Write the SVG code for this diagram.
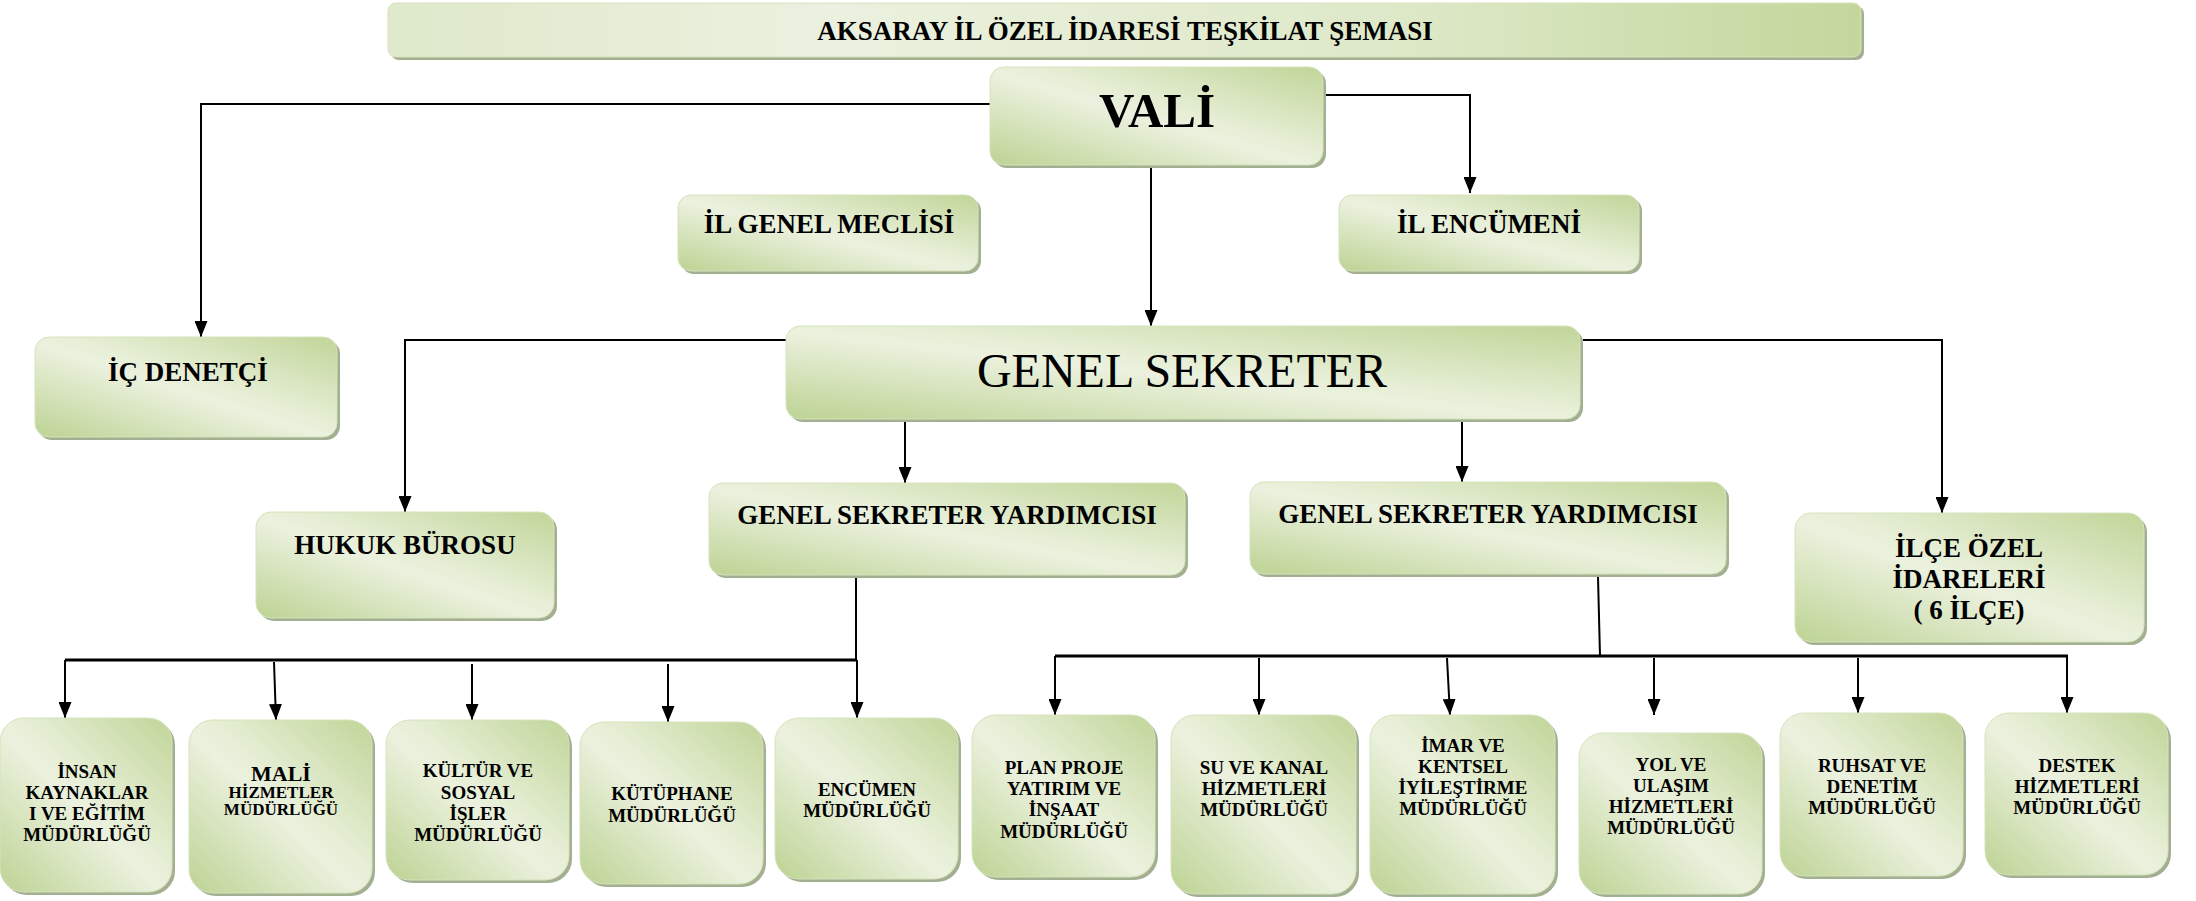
<svg xmlns="http://www.w3.org/2000/svg" width="2196" height="901" viewBox="0 0 2196 901">
<defs>
<linearGradient id="g" x1="0" y1="1" x2="1" y2="0">
<stop offset="0" stop-color="#bdd393"/>
<stop offset="0.47" stop-color="#ebf1de"/>
<stop offset="0.55" stop-color="#e7efd7"/>
<stop offset="1" stop-color="#c1d598"/>
</linearGradient>
<linearGradient id="gt" x1="0" y1="0" x2="1" y2="0">
<stop offset="0" stop-color="#dfe9cb"/>
<stop offset="0.3" stop-color="#ebf1df"/>
<stop offset="0.7" stop-color="#dde8c7"/>
<stop offset="1" stop-color="#c3d79b"/>
</linearGradient>
<marker id="ar" markerUnits="userSpaceOnUse" markerWidth="16" markerHeight="13" refX="16" refY="6.5" orient="auto">
<path d="M0,0 L16,6.5 L0,13 z" fill="#000"/>
</marker>
</defs>
<style>
.sh{fill:#a3af91}
.bx{fill:url(#g);stroke:#d6e3bc;stroke-width:1}
.t{font-family:"Liberation Serif","Times New Roman",serif;font-weight:bold;fill:#000;text-anchor:middle}
.n{font-weight:normal}
.c{fill:none;stroke:#000;stroke-width:2}
.cb{fill:none;stroke:#000;stroke-width:3}
.a{marker-end:url(#ar)}
</style>

<g id="connectors">
<path class="c a" d="M990,104 H201 V337"/>
<path class="c a" d="M1325,95 H1470 V193"/>
<path class="c a" d="M1151,168 V326"/>
<path class="c a" d="M786,340 H405 V512"/>
<path class="c a" d="M905,422 V483"/>
<path class="c a" d="M1462,422 V482"/>
<path class="c a" d="M1583,340 H1942 V513"/>
<path class="c" d="M856,578 V660"/>
<path class="cb" d="M65,660 H857"/>
<path class="c a" d="M65,660 V718"/>
<path class="c a" d="M274,662 L276,720"/>
<path class="c a" d="M472,664 V720"/>
<path class="c a" d="M668,664 V722"/>
<path class="c a" d="M857,660 V718"/>
<path class="c" d="M1598,577 L1600,656"/>
<path class="cb" d="M1055,656 H2068"/>
<path class="c a" d="M1055,656 V715"/>
<path class="c a" d="M1259,658 V715"/>
<path class="c a" d="M1447,658 L1450,715"/>
<path class="c a" d="M1654,658 V715"/>
<path class="c a" d="M1858,658 V713"/>
<path class="c a" d="M2067,656 V713"/>
</g>

<g id="title">
<rect class="sh" x="391" y="6" width="1473" height="54" rx="8"/>
<rect x="388" y="3" width="1473" height="54" rx="8" fill="url(#gt)" stroke="#d6e3bc"/>
<text class="t" x="1125" y="40" font-size="27">AKSARAY İL ÖZEL İDARESİ TEŞKİLAT ŞEMASI</text>
</g>

<g id="vali">
<rect class="sh" x="993" y="70" width="333" height="98" rx="14"/>
<rect class="bx" x="990" y="67" width="333" height="98" rx="14"/>
<text class="t" x="1157" y="127" font-size="49">VALİ</text>
</g>

<g id="il-genel-meclisi">
<rect class="sh" x="681" y="198" width="300" height="76" rx="13"/>
<rect class="bx" x="678" y="195" width="300" height="76" rx="13"/>
<text class="t" x="829" y="233" font-size="27">İL GENEL MECLİSİ</text>
</g>

<g id="il-encumeni">
<rect class="sh" x="1342" y="198" width="300" height="76" rx="13"/>
<rect class="bx" x="1339" y="195" width="300" height="76" rx="13"/>
<text class="t" x="1489" y="233" font-size="27">İL ENCÜMENİ</text>
</g>

<g id="ic-denetci">
<rect class="sh" x="38" y="340" width="302" height="100" rx="14"/>
<rect class="bx" x="35" y="337" width="302" height="100" rx="14"/>
<text class="t" x="188" y="381" font-size="27">İÇ DENETÇİ</text>
</g>

<g id="genel-sekreter">
<rect class="sh" x="789" y="329" width="794" height="93" rx="14"/>
<rect class="bx" x="786" y="326" width="794" height="93" rx="14"/>
<text class="t n" x="1182" y="387" font-size="48">GENEL SEKRETER</text>
</g>

<g id="hukuk-burosu">
<rect class="sh" x="259" y="515" width="298" height="106" rx="15"/>
<rect class="bx" x="256" y="512" width="298" height="106" rx="15"/>
<text class="t" x="405" y="554" font-size="27">HUKUK BÜROSU</text>
</g>

<g id="gsy1">
<rect class="sh" x="712" y="486" width="476" height="92" rx="14"/>
<rect class="bx" x="709" y="483" width="476" height="92" rx="14"/>
<text class="t" x="947" y="524" font-size="27">GENEL SEKRETER YARDIMCISI</text>
</g>

<g id="gsy2">
<rect class="sh" x="1253" y="485" width="476" height="92" rx="14"/>
<rect class="bx" x="1250" y="482" width="476" height="92" rx="14"/>
<text class="t" x="1488" y="523" font-size="27">GENEL SEKRETER YARDIMCISI</text>
</g>

<g id="ilce-ozel-idareleri">
<rect class="sh" x="1798" y="516" width="349" height="129" rx="16"/>
<rect class="bx" x="1795" y="513" width="349" height="129" rx="16"/>
<text class="t" font-size="27"><tspan x="1969" y="557">İLÇE ÖZEL</tspan><tspan x="1969" y="588">İDARELERİ</tspan><tspan x="1969" y="619">( 6 İLÇE)</tspan></text>
</g>

<g id="insan-kaynaklari">
<rect class="sh" x="3" y="721" width="172" height="174" rx="24"/>
<rect class="bx" x="0" y="718" width="172" height="174" rx="24"/>
<text class="t" font-size="19"><tspan x="87" y="778">İNSAN</tspan><tspan x="87" y="799">KAYNAKLAR</tspan><tspan x="87" y="820">I VE EĞİTİM</tspan><tspan x="87" y="841">MÜDÜRLÜĞÜ</tspan></text>
</g>

<g id="mali-hizmetler">
<rect class="sh" x="192" y="723" width="183" height="173" rx="24"/>
<rect class="bx" x="189" y="720" width="183" height="173" rx="24"/>
<text class="t" x="281" y="781" font-size="22">MALİ</text>
<text class="t" font-size="17"><tspan x="281" y="798">HİZMETLER</tspan><tspan x="281" y="815">MÜDÜRLÜĞÜ</tspan></text>
</g>

<g id="kultur-sosyal">
<rect class="sh" x="389" y="723" width="183" height="160" rx="24"/>
<rect class="bx" x="386" y="720" width="183" height="160" rx="24"/>
<text class="t" font-size="19"><tspan x="478" y="777">KÜLTÜR VE</tspan><tspan x="478" y="799">SOSYAL</tspan><tspan x="478" y="820">İŞLER</tspan><tspan x="478" y="841">MÜDÜRLÜĞÜ</tspan></text>
</g>

<g id="kutuphane">
<rect class="sh" x="583" y="725" width="183" height="162" rx="24"/>
<rect class="bx" x="580" y="722" width="183" height="162" rx="24"/>
<text class="t" font-size="19"><tspan x="672" y="800">KÜTÜPHANE</tspan><tspan x="672" y="822">MÜDÜRLÜĞÜ</tspan></text>
</g>

<g id="encumen">
<rect class="sh" x="778" y="721" width="183" height="161" rx="24"/>
<rect class="bx" x="775" y="718" width="183" height="161" rx="24"/>
<text class="t" font-size="19"><tspan x="867" y="796">ENCÜMEN</tspan><tspan x="867" y="817">MÜDÜRLÜĞÜ</tspan></text>
</g>

<g id="plan-proje">
<rect class="sh" x="975" y="718" width="183" height="162" rx="24"/>
<rect class="bx" x="972" y="715" width="183" height="162" rx="24"/>
<text class="t" font-size="19"><tspan x="1064" y="774">PLAN PROJE</tspan><tspan x="1064" y="795">YATIRIM VE</tspan><tspan x="1064" y="816">İNŞAAT</tspan><tspan x="1064" y="838">MÜDÜRLÜĞÜ</tspan></text>
</g>

<g id="su-kanal">
<rect class="sh" x="1174" y="718" width="185" height="179" rx="24"/>
<rect class="bx" x="1171" y="715" width="185" height="179" rx="24"/>
<text class="t" font-size="19"><tspan x="1264" y="774">SU VE KANAL</tspan><tspan x="1264" y="795">HİZMETLERİ</tspan><tspan x="1264" y="816">MÜDÜRLÜĞÜ</tspan></text>
</g>

<g id="imar-kentsel">
<rect class="sh" x="1373" y="718" width="185" height="179" rx="24"/>
<rect class="bx" x="1370" y="715" width="185" height="179" rx="24"/>
<text class="t" font-size="19"><tspan x="1463" y="752">İMAR VE</tspan><tspan x="1463" y="773">KENTSEL</tspan><tspan x="1463" y="794">İYİLEŞTİRME</tspan><tspan x="1463" y="815">MÜDÜRLÜĞÜ</tspan></text>
</g>

<g id="yol-ulasim">
<rect class="sh" x="1582" y="736" width="183" height="161" rx="24"/>
<rect class="bx" x="1579" y="733" width="183" height="161" rx="24"/>
<text class="t" font-size="19"><tspan x="1671" y="771">YOL VE</tspan><tspan x="1671" y="792">ULAŞIM</tspan><tspan x="1671" y="813">HİZMETLERİ</tspan><tspan x="1671" y="834">MÜDÜRLÜĞÜ</tspan></text>
</g>

<g id="ruhsat-denetim">
<rect class="sh" x="1783" y="716" width="183" height="163" rx="24"/>
<rect class="bx" x="1780" y="713" width="183" height="163" rx="24"/>
<text class="t" font-size="19"><tspan x="1872" y="772">RUHSAT VE</tspan><tspan x="1872" y="793">DENETİM</tspan><tspan x="1872" y="814">MÜDÜRLÜĞÜ</tspan></text>
</g>

<g id="destek-hizmetleri">
<rect class="sh" x="1988" y="716" width="183" height="162" rx="24"/>
<rect class="bx" x="1985" y="713" width="183" height="162" rx="24"/>
<text class="t" font-size="19"><tspan x="2077" y="772">DESTEK</tspan><tspan x="2077" y="793">HİZMETLERİ</tspan><tspan x="2077" y="814">MÜDÜRLÜĞÜ</tspan></text>
</g>
</svg>
